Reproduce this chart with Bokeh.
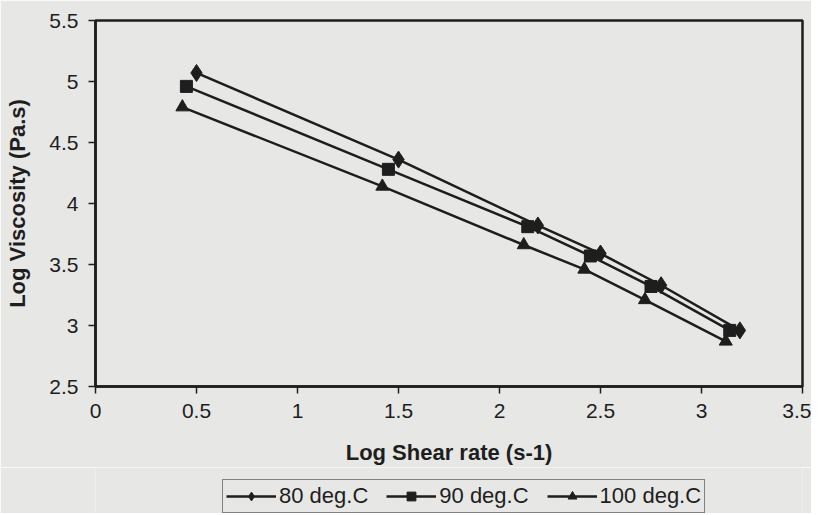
from bokeh.plotting import figure
from bokeh.models import Range1d, Legend, LegendItem, FixedTicker
from bokeh.layouts import column
from bokeh.embed import file_html
from bokeh.resources import INLINE

# data
x80 = [0.50, 1.50, 2.19, 2.50, 2.80, 3.19]
y80 = [5.07, 4.36, 3.82, 3.59, 3.33, 2.96]
x90 = [0.45, 1.45, 2.14, 2.45, 2.75, 3.14]
y90 = [4.96, 4.28, 3.81, 3.57, 3.32, 2.96]
x100 = [0.43, 1.42, 2.12, 2.42, 2.72, 3.12]
y100 = [4.79, 4.14, 3.66, 3.46, 3.21, 2.87]
labels = ["80 deg.C", "90 deg.C", "100 deg.C"]
xticks = [0, 0.5, 1, 1.5, 2, 2.5, 3, 3.5]
yticks = [2.5, 3, 3.5, 4, 4.5, 5, 5.5]

FONT = "Liberation Sans"
BG = "#e7e7e5"
INK = "#1e1e1e"

p = figure(frame_width=707, frame_height=366, output_backend="svg", toolbar_location=None,
           x_range=Range1d(0, 3.5), y_range=Range1d(2.5, 5.5),
           min_border_left=95, min_border_right=9, min_border_top=20, min_border_bottom=0)
p.background_fill_color = BG
p.border_fill_color = BG
p.outline_line_color = INK
p.outline_line_width = 2.5
p.xgrid.visible = False
p.ygrid.visible = False

for ax in (p.xaxis[0], p.yaxis[0]):
    ax.axis_line_color = INK
    ax.axis_line_width = 2.5
    ax.major_tick_line_color = INK
    ax.major_tick_line_width = 1.5
    ax.major_tick_out = 7
    ax.major_tick_in = 0
    ax.minor_tick_line_color = None
    ax.major_label_text_font = FONT
    ax.major_label_text_font_size = "21px"
    ax.major_label_text_color = INK
    ax.axis_label_text_font = FONT
    ax.axis_label_text_font_size = "22px"
    ax.axis_label_text_font_style = "bold"
    ax.axis_label_text_color = INK

p.xaxis.ticker = FixedTicker(ticks=xticks)
p.yaxis.ticker = FixedTicker(ticks=yticks)
p.xaxis.major_label_overrides = {0: "0", 0.5: "0.5", 1: "1", 1.5: "1.5", 2: "2", 2.5: "2.5", 3: "3", 3.5: "3.5"}
p.yaxis.major_label_overrides = {2.5: "2.5", 3: "3", 3.5: "3.5", 4: "4", 4.5: "4.5", 5: "5", 5.5: "5.5"}
p.xaxis.axis_label = "Log Shear rate (s-1)"
p.yaxis.axis_label = "Log Viscosity (Pa.s)"
p.xaxis.major_label_standoff = 10
p.xaxis.axis_label_standoff = 19
p.yaxis.major_label_standoff = 10
p.yaxis.axis_label_standoff = 16

series = [(x80, y80, "diamond", 17), (x90, y90, "square", 12), (x100, y100, "triangle", 13)]
for xs, ys, mk, sz in series:
    p.line(xs, ys, line_color=INK, line_width=2.5)
    p.scatter(xs, ys, marker=mk, size=sz, fill_color=INK, line_color=INK)

# legend strip below the chart (its own renderers lie outside its visible range)
q = figure(width=811, height=46, output_backend="svg", toolbar_location=None,
           x_range=Range1d(10, 11), y_range=Range1d(10, 11),
           min_border_left=0, min_border_right=0, min_border_top=0, min_border_bottom=0)
q.axis.visible = False
q.grid.visible = False
q.outline_line_color = None
q.background_fill_color = BG
q.border_fill_color = BG
items = []
for (xs, ys, mk, sz), lab in zip(series, labels):
    ln = q.line(xs, ys, line_color=INK, line_width=2.5)
    sc = q.scatter(xs, ys, marker=mk, size=sz, fill_color=INK, line_color=INK)
    items.append(LegendItem(label=lab, renderers=[ln, sc]))

leg = Legend(items=items, orientation="horizontal", location=(127, 0))
leg.label_text_font = FONT
leg.label_text_font_size = "22px"
leg.label_text_color = INK
leg.border_line_color = INK
leg.border_line_width = 1.5
leg.background_fill_color = BG
leg.background_fill_alpha = 1
leg.glyph_width = 50
leg.glyph_height = 22
leg.label_height = 22
leg.spacing = 18
leg.padding = 3
leg.label_standoff = 3
leg.margin = 0
q.add_layout(leg, "center")

layout = column(p, q, spacing=0)
open("out.html", "w").write(file_html(layout, INLINE))
